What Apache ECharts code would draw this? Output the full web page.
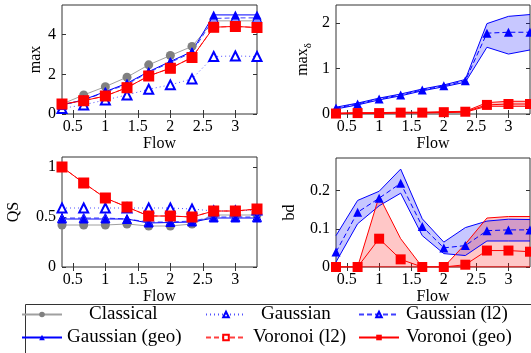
<!DOCTYPE html>
<html>
<head>
<meta charset="utf-8">
<script src="https://cdn.jsdelivr.net/npm/echarts@6/dist/echarts.min.js"></script>
<style>
  html, body { margin: 0; padding: 0; background: #fff; }
  #chart { width: 531px; height: 353px; }
</style>
</head>
<body>
<div id="chart"></div>
<script>
// flow values on the x axis (1/3 steps)
const flows = [0.333, 0.667, 1, 1.333, 1.667, 2, 2.333, 2.667, 3, 3.333];
const xTicks = [0.5, 1, 1.5, 2, 2.5, 3];

// panel 1: max
const maxClassical = [0.5, 0.96, 1.38, 1.86, 2.48, 2.95, 3.41, 4.7, 4.7, 4.7];
const maxGaussian = [0.28, 0.46, 0.71, 0.96, 1.25, 1.47, 1.77, 2.9, 2.93, 2.9];
const maxGaussianL2 = [0.45, 0.7, 1.1, 1.5, 2.1, 2.6, 3.1, 4.82, 4.85, 4.85];
const maxGaussianGeo = [0.45, 0.72, 1.13, 1.55, 2.14, 2.65, 3.15, 5.0, 5.0, 5.0];
const maxVoronoiL2 = [0.5, 0.67, 0.91, 1.33, 1.92, 2.31, 2.85, 4.38, 4.42, 4.36];
const maxVoronoiGeo = [0.5, 0.67, 0.91, 1.33, 1.92, 2.31, 2.85, 4.38, 4.42, 4.36];

// panel 2: max_delta (mean with min/max band)
const mdGaussMean = [0.13, 0.22, 0.33, 0.42, 0.53, 0.62, 0.73, 1.78, 1.8, 1.8];
const mdGaussLow = [0.11, 0.2, 0.31, 0.4, 0.51, 0.6, 0.7, 1.47, 1.32, 1.41];
const mdGaussHigh = [0.15, 0.24, 0.35, 0.44, 0.55, 0.64, 0.76, 1.99, 2.15, 2.19];
const mdVoroMean = [0.01, 0.02, 0.02, 0.03, 0.03, 0.04, 0.05, 0.2, 0.22, 0.22];
const mdVoroLow = [0.0, 0.01, 0.01, 0.02, 0.02, 0.03, 0.04, 0.17, 0.17, 0.17];
const mdVoroHigh = [0.02, 0.03, 0.03, 0.04, 0.04, 0.05, 0.06, 0.25, 0.28, 0.28];

// panel 3: QS
const qsClassical = [0.42, 0.42, 0.42, 0.43, 0.41, 0.41, 0.43, 0.52, 0.52, 0.52];
const qsGaussian = [0.59, 0.59, 0.59, 0.59, 0.59, 0.59, 0.58, 0.56, 0.56, 0.57];
const qsGaussianL2 = [0.49, 0.49, 0.49, 0.48, 0.45, 0.45, 0.46, 0.5, 0.5, 0.5];
const qsGaussianGeo = [0.48, 0.48, 0.48, 0.48, 0.44, 0.445, 0.45, 0.49, 0.49, 0.49];
const qsVoronoiL2 = [1.0, 0.84, 0.69, 0.6, 0.51, 0.51, 0.5, 0.56, 0.56, 0.58];
const qsVoronoiGeo = [1.0, 0.84, 0.69, 0.6, 0.51, 0.51, 0.5, 0.56, 0.56, 0.58];

// panel 4: bd (mean with band)
const bdGaussMean = [0.039, 0.143, 0.18, 0.219, 0.106, 0.05, 0.056, 0.095, 0.097, 0.097];
const bdGaussLow = [0.013, 0.113, 0.16, 0.193, 0.082, 0.035, 0.03, 0.068, 0.068, 0.068];
const bdGaussHigh = [0.082, 0.174, 0.198, 0.256, 0.126, 0.065, 0.103, 0.12, 0.125, 0.124];
const bdVoroMean = [0, 0, 0.074, 0.02, 0, 0, 0.006, 0.043, 0.043, 0.04];
const bdVoroLow = [0, 0, 0, 0, 0, 0, 0, 0, 0, 0];
const bdVoroHigh = [0, 0, 0.185, 0.074, 0, 0, 0.06, 0.128, 0.132, 0.132];

const FONT = 'Liberation Serif';
const BLUE = '#0000ff', RED = '#ff0000', GRAY = '#808080';

const pts = (ys) => flows.map((x, i) => [x, ys[i]]);

const chart = echarts.init(document.getElementById('chart'), null, { renderer: 'canvas' });

const grids = [
  { left: 62, top: 5, width: 195, height: 109 },
  { left: 336, top: 5, width: 194, height: 109 },
  { left: 62, top: 157, width: 195, height: 110 },
  { left: 336, top: 158, width: 194, height: 109 }
].map(g => Object.assign(g, { show: true, borderColor: '#333', borderWidth: 1, containLabel: false }));

const yConf = [
  { max: 5.5, ticks: [0, 2, 4], name: 'max', gap: 18 },
  { max: 2.4, ticks: [0, 1, 2], name: '{a|max}{s|δ}', gap: 22 },
  { max: 1.1, ticks: [0, 0.5, 1], name: 'QS', gap: 40 },
  { max: 0.285, ticks: [0, 0.1, 0.2], name: 'bd', gap: 38 }
];

const xAxes = [], yAxes = [];
grids.forEach((g, i) => {
  xAxes.push({
    type: 'value', gridIndex: i, min: 0.333, max: 3.333,
    name: 'Flow', nameLocation: 'middle', nameGap: 20,
    nameTextStyle: { fontFamily: FONT, fontSize: 16, color: '#000' },
    axisLine: { show: false }, splitLine: { show: false },
    axisTick: { inside: true, length: 4, customValues: xTicks, lineStyle: { color: '#333' } },
    axisLabel: { customValues: xTicks, margin: 5, fontFamily: FONT, fontSize: 16, color: '#000' }
  });
  // mirrored ticks on top
  xAxes.push({
    type: 'value', gridIndex: i, min: 0.333, max: 3.333, position: 'top',
    axisLine: { show: false }, splitLine: { show: false },
    axisTick: { inside: true, length: 4, customValues: xTicks, lineStyle: { color: '#333' } },
    axisLabel: { show: false }
  });
  const yc = yConf[i];
  yAxes.push({
    type: 'value', gridIndex: i, min: 0, max: yc.max,
    name: yc.name, nameLocation: 'middle', nameGap: yc.gap, nameRotate: 90,
    nameTextStyle: {
      fontFamily: FONT, fontSize: 16, color: '#000',
      rich: {
        a: { fontFamily: FONT, fontSize: 16, color: '#000' },
        s: { fontFamily: FONT, fontSize: 11, color: '#000', padding: [12, 0, 0, 0] }
      }
    },
    axisLine: { show: false }, splitLine: { show: false },
    axisTick: { inside: true, length: 4, customValues: yc.ticks, lineStyle: { color: '#333' } },
    axisLabel: { customValues: yc.ticks, margin: 6, fontFamily: FONT, fontSize: 16, color: '#000' }
  });
  yAxes.push({
    type: 'value', gridIndex: i, min: 0, max: yc.max, position: 'right',
    axisLine: { show: false }, splitLine: { show: false },
    axisTick: { inside: true, length: 4, customValues: yc.ticks, lineStyle: { color: '#333' } },
    axisLabel: { show: false }
  });
});

// the six styled series for the line panels
const styles = {
  'Classical': { symbol: 'circle', symbolSize: 9, itemStyle: { color: GRAY }, lineStyle: { color: '#a0a0a0', width: 1 } },
  'Gaussian': { symbol: 'emptyTriangle', symbolSize: 9, itemStyle: { color: BLUE, borderWidth: 1 }, lineStyle: { color: '#5050ff', width: 1, type: [1, 3] } },
  'Gaussian (l2)': { symbol: 'triangle', symbolSize: 9, itemStyle: { color: '#9090ff', borderColor: BLUE, borderWidth: 1 }, lineStyle: { color: '#4040ff', width: 1, type: [5, 3] } },
  'Gaussian (geo)': { symbol: 'triangle', symbolSize: 9, itemStyle: { color: BLUE }, lineStyle: { color: BLUE, width: 1 } },
  'Voronoi (l2)': { symbol: 'emptyRect', symbolSize: 9, itemStyle: { color: RED, borderWidth: 1 }, lineStyle: { color: '#ff4040', width: 1, type: [5, 3] } },
  'Voronoi (geo)': { symbol: 'rect', symbolSize: 10, itemStyle: { color: RED }, lineStyle: { color: RED, width: 1 } }
};

const series = [];
function lineSet(idx, data) {
  Object.keys(data).forEach(name => {
    series.push(Object.assign({
      type: 'line', name: name, xAxisIndex: idx * 2, yAxisIndex: idx * 2,
      data: pts(data[name]), showAllSymbol: true
    }, styles[name]));
  });
}
lineSet(0, {
  'Classical': maxClassical, 'Gaussian': maxGaussian, 'Gaussian (l2)': maxGaussianL2,
  'Gaussian (geo)': maxGaussianGeo, 'Voronoi (l2)': maxVoronoiL2, 'Voronoi (geo)': maxVoronoiGeo
});
lineSet(2, {
  'Classical': qsClassical, 'Gaussian': qsGaussian, 'Gaussian (l2)': qsGaussianL2,
  'Gaussian (geo)': qsGaussianGeo, 'Voronoi (l2)': qsVoronoiL2, 'Voronoi (geo)': qsVoronoiGeo
});

// shaded band between lo and hi, drawn as one polygon through the axis scales
function bandSet(idx, key, color, fill, lo, hi) {
  const ax = { xAxisIndex: idx * 2, yAxisIndex: idx * 2 };
  series.push(Object.assign({
    type: 'custom', name: key + ' band', z: 1, silent: true,
    data: [[flows[0], lo[0]]],
    renderItem: function (params, api) {
      const upper = flows.map((x, i) => api.coord([x, hi[i]]));
      const lower = flows.map((x, i) => api.coord([x, lo[i]])).reverse();
      return {
        type: 'polygon',
        shape: { points: upper.concat(lower) },
        style: { fill: fill, stroke: 'none' }
      };
    }
  }, ax));
  [lo, hi].forEach((ys, k) => {
    series.push(Object.assign({
      type: 'line', name: key + (k ? ' high' : ' low'), symbol: 'none',
      data: pts(ys), lineStyle: { color: color, width: 1 }, z: 2
    }, ax));
  });
}
function meanSet(idx, key, symbol, size, color, mean) {
  series.push({
    type: 'line', name: key + ' mean', xAxisIndex: idx * 2, yAxisIndex: idx * 2,
    data: pts(mean), symbol: symbol, symbolSize: size, showAllSymbol: true,
    itemStyle: { color: color }, lineStyle: { color: color, width: 1, type: symbol === 'triangle' ? [5, 3] : 'solid' }, z: 3
  });
}
bandSet(1, 'gauss', BLUE, 'rgba(0,0,255,0.22)', mdGaussLow, mdGaussHigh);
bandSet(1, 'voro', RED, 'rgba(255,0,0,0.22)', mdVoroLow, mdVoroHigh);
meanSet(1, 'gauss', 'triangle', 9, BLUE, mdGaussMean);
meanSet(1, 'voro', 'rect', 10, RED, mdVoroMean);
bandSet(3, 'gauss', BLUE, 'rgba(0,0,255,0.22)', bdGaussLow, bdGaussHigh);
bandSet(3, 'voro', RED, 'rgba(255,0,0,0.22)', bdVoroLow, bdVoroHigh);
meanSet(3, 'gauss', 'triangle', 9, BLUE, bdGaussMean);
meanSet(3, 'voro', 'rect', 10, RED, bdVoroMean);

// legend: one legend per cell so the 3x2 layout lines up like the original
const legendCells = [
  { name: 'Classical', left: 21, top: 305, pad: 22 },
  { name: 'Gaussian', left: 205, top: 305, pad: 10 },
  { name: 'Gaussian (l2)', left: 358, top: 305, pad: 2 },
  { name: 'Gaussian (geo)', left: 21, top: 328, pad: 0 },
  { name: 'Voronoi (l2)', left: 205, top: 328, pad: 2 },
  { name: 'Voronoi (geo)', left: 358, top: 328, pad: 2 }
];
const legends = legendCells.map(c => ({
  data: [c.name], left: c.left, top: c.top, padding: 0,
  itemWidth: 40, itemHeight: 7, selectedMode: false,
  textStyle: { fontFamily: FONT, fontSize: 19, color: '#000', padding: [0, 0, 0, c.pad] }
}));

chart.setOption({
  animation: false,
  backgroundColor: '#fff',
  grid: grids,
  xAxis: xAxes,
  yAxis: yAxes,
  legend: legends,
  graphic: [{
    type: 'rect', left: 23, top: 302,
    shape: { width: 520, height: 60 },
    style: { fill: 'none', stroke: '#333', lineWidth: 1 }
  }],
  series: series
});
</script>
</body>
</html>
